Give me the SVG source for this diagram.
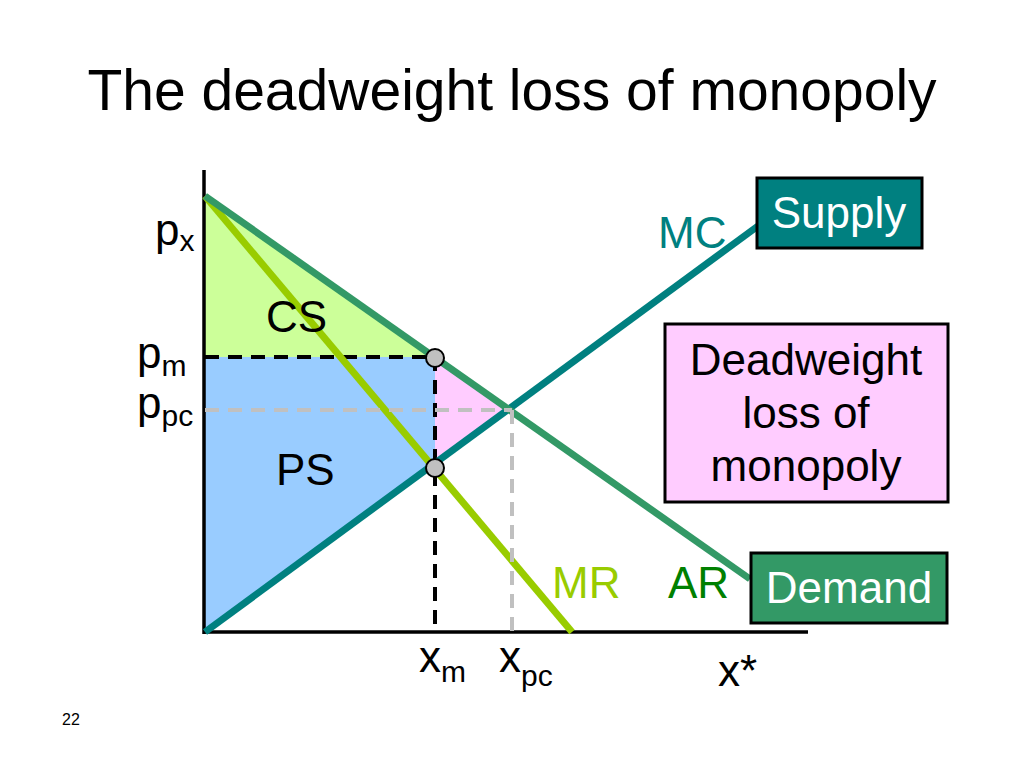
<svg xmlns="http://www.w3.org/2000/svg" width="1024" height="768" viewBox="0 0 1024 768">
<style>
text{font-family:"Liberation Sans",Arial,sans-serif;}
.lbl{font-size:44px;fill:#000;}
.sub{font-size:30px;}
.box{stroke:#000;stroke-width:3;}
.boxtxt{font-size:44px;fill:#fff;text-anchor:middle;}
.curve{fill:none;stroke-width:7;stroke-linecap:butt;}
.dash{fill:none;stroke-width:4;stroke-dasharray:14,9;}
.dot{fill:#c0c0c0;stroke:#000;stroke-width:2;}
</style>
<rect width="1024" height="768" fill="#fff"/>
<text x="512" y="110" font-size="57" text-anchor="middle">The deadweight loss of monopoly</text>
<g id="areas">
<polygon id="cs" points="205,196 435,357 205,357" fill="#ccff99"/>
<polygon id="ps" points="205,357 435,357 435,466 205,632" fill="#99ccff"/>
<polygon id="dwl" points="435,357 511,409 435,466" fill="#ffccff"/>
</g>
<g id="connectors">
<line id="x-axis" x1="203" y1="632" x2="808" y2="632" stroke="#000" stroke-width="3.5"/>
<line id="y-axis" x1="204" y1="170" x2="204" y2="634" stroke="#000" stroke-width="3.5"/>
<line class="dash" x1="205" y1="357" x2="435" y2="357" stroke="#000"/>
<line class="dash" x1="435" y1="357" x2="435" y2="632" stroke="#000"/>
<line id="mc" class="curve" x1="205" y1="632" x2="758" y2="226" stroke="#008080"/>
<line id="mr" class="curve" x1="205" y1="196" x2="572" y2="632" stroke="#99cc00"/>
<line id="demand" class="curve" x1="205" y1="196" x2="750" y2="579" stroke="#339966"/>
<line class="dash" x1="205" y1="410" x2="512" y2="410" stroke="#c0c0c0"/>
<line class="dash" x1="512" y1="410" x2="512" y2="632" stroke="#c0c0c0"/>
<circle class="dot" cx="435" cy="358" r="9"/>
<circle class="dot" cx="435" cy="468" r="9"/>
</g>
<g id="supply">
<rect class="box" x="757" y="178" width="165" height="70" fill="#008080"/>
<text class="boxtxt" x="839" y="228">Supply</text>
</g>
<g id="dwl-box">
<rect class="box" x="665" y="324" width="283" height="178" fill="#ffccff"/>
<text class="lbl" x="806" y="375" text-anchor="middle">Deadweight</text>
<text class="lbl" x="806" y="428" text-anchor="middle">loss of</text>
<text class="lbl" x="806" y="481" text-anchor="middle">monopoly</text>
</g>
<g id="demand-box">
<rect class="box" x="751" y="553" width="196" height="70" fill="#339966"/>
<text class="boxtxt" x="849" y="603">Demand</text>
</g>
<g id="labels">
<text class="lbl" x="155" y="245">p<tspan class="sub" dy="6">x</tspan></text>
<text class="lbl" x="266" y="332">CS</text>
<text class="lbl" x="276" y="485">PS</text>
<text class="lbl" x="137" y="368">p<tspan class="sub" dy="8">m</tspan></text>
<text class="lbl" x="137" y="418">p<tspan class="sub" dy="8">pc</tspan></text>
<text class="lbl" x="658" y="248" style="fill:#008080">MC</text>
<text class="lbl" x="552" y="598" style="fill:#99cc00">MR</text>
<text class="lbl" x="668" y="598" style="fill:#008000">AR</text>
<text class="lbl" x="419" y="672">x<tspan class="sub" dy="10">m</tspan></text>
<text class="lbl" x="499" y="672">x<tspan class="sub" dy="14">pc</tspan></text>
<text class="lbl" x="718" y="686">x*</text>
<text x="62" y="725" font-size="16">22</text>
</g>
</svg>
